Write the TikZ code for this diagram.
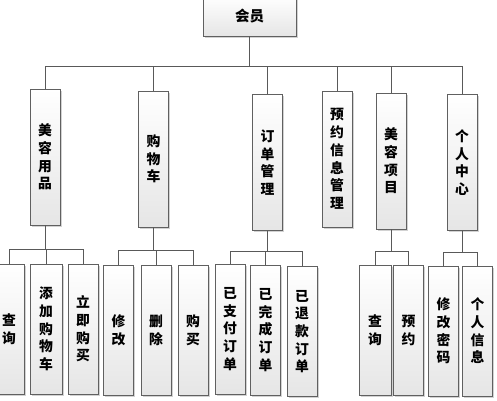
\documentclass[tikz,border=0pt]{standalone}
\usepackage{fontspec}
\newfontfamily\cjk{Noto Sans CJK SC}
\usetikzlibrary{shadows}

\tikzset{
  box/.style={draw=gray!75!black, top color=white, bottom color=gray!20,
    drop shadow={shadow xshift=1.5pt, shadow yshift=-1.5pt, fill=gray!70, opacity=.5},
    align=center, inner sep=0pt, minimum width=30pt,
    font=\cjk\bfseries\fontsize{13.8}{17.7}\selectfont},
  mid/.style={box, minimum height=136pt},
  leaf/.style={box, minimum height=130pt},
  link/.style={draw=gray!70!black, line width=0.8pt}
}

\begin{document}
\begin{tikzpicture}[x=1pt, y=-1pt]
  \useasboundingbox (0,0) rectangle (497,400);

  % top
  \node[box, minimum width=93pt, minimum height=40pt, font=\cjk\bfseries\fontsize{14.5}{16}\selectfont] (root) at (249.5,16) {会员};

  % second level
  \node[mid] (m1) at (45,157) {美\\容\\用\\品};
  \node[mid] (m2) at (153.5,159) {购\\物\\车};
  \node[mid] (m3) at (267.5,162.5) {订\\单\\管\\理};
  \node[mid] (m4) at (337,159) {预\\约\\信\\息\\管\\理};
  \node[mid] (m5) at (391,161) {美\\容\\项\\目};
  \node[mid] (m6) at (462,162.5) {个\\人\\中\\心};

  % third level
  \node[leaf] (c11) at (9,329) {查\\询};
  \node[leaf, minimum width=32pt] (c12) at (46,329) {添\\加\\购\\物\\车};
  \node[leaf] (c13) at (83,329) {立\\即\\购\\买};

  \node[leaf] (c21) at (118.5,330.5) {修\\改};
  \node[leaf] (c22) at (156,330.5) {删\\除};
  \node[leaf] (c23) at (193,330.5) {购\\买};

  \node[leaf] (c31) at (230,329) {已\\支\\付\\订\\单};
  \node[leaf] (c32) at (265.5,330) {已\\完\\成\\订\\单};
  \node[leaf] (c33) at (302,331.5) {已\\退\\款\\订\\单};

  \node[leaf, minimum width=32pt] (c51) at (375,330.5) {查\\询};
  \node[leaf] (c52) at (408.5,330.5) {预\\约};

  \node[leaf] (c61) at (443.5,331) {修\\改\\密\\码};
  \node[leaf] (c62) at (477.5,331) {个\\人\\信\\息};

  % connectors
  \foreach \m in {m1,m2,m3,m4,m5,m6}
    \draw[link] (root.south) -- ++(0,30) -| (\m.north);
  \foreach \p/\c/\d in {m1/c11/24, m1/c12/24, m1/c13/24,
                        m2/c21/23, m2/c22/23, m2/c23/23,
                        m3/c31/21, m3/c32/21, m3/c33/21,
                        m5/c51/22, m5/c52/22,
                        m6/c61/22, m6/c62/22}
    \draw[link] (\p.south) -- ++(0,\d) -| (\c.north);
\end{tikzpicture}
\end{document}
